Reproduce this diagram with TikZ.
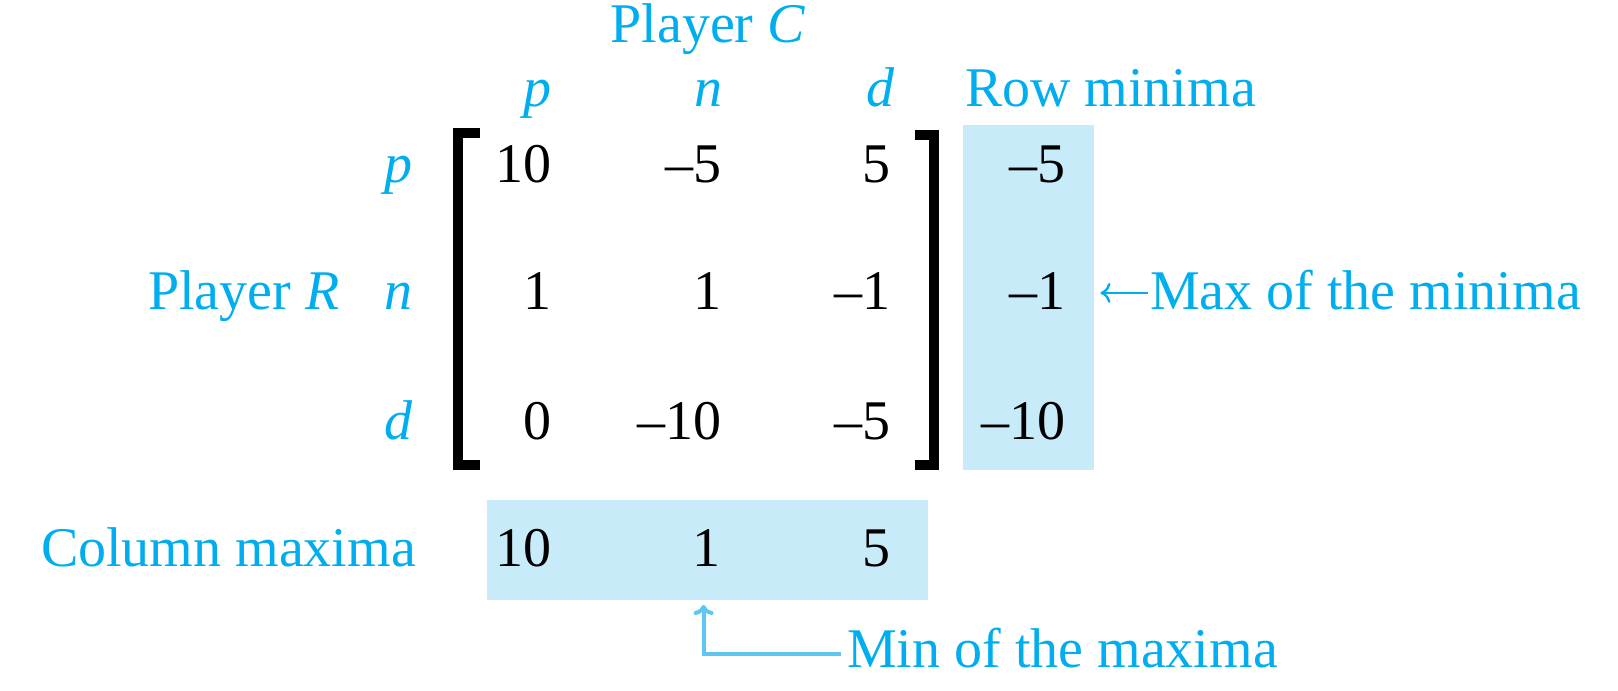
\documentclass[tikz,border=0pt]{standalone}
\usepackage{fontspec}
\setmainfont{Liberation Serif}
\usetikzlibrary{arrows.meta}
\definecolor{cyanT}{RGB}{0,174,239}
\definecolor{boxfill}{RGB}{200,235,250}
\definecolor{arrowc}{RGB}{95,198,242}
\begin{document}
\begin{tikzpicture}[x=0.25pt,y=-0.25pt,
  every node/.style={inner sep=0pt, outer sep=0pt, font=\fontsize{14}{16}\selectfont},
  lbl/.style={text=cyanT},
  num/.style={text=black, anchor=base east},
  brk/.style={line width=2.5pt, black},
  hl/.style={fill=boxfill, draw=none, anchor=north west},
  pointer/.style={draw=arrowc, line width=1pt, -{To[length=2.5pt,width=5pt]}},
  leftptr/.style={draw=cyanT, line width=0.6pt, -{To[length=2.5pt,width=5pt]}},
]
\useasboundingbox (0,0) rectangle (1618,691);

% highlight boxes
\node[hl, minimum width=32.75pt, minimum height=86.25pt] (rowbox) at (963,125) {};
\node[hl, minimum width=110.25pt, minimum height=25pt] (colbox) at (487,500) {};

% brackets
\draw[brk] (480,133) -- (458,133) -- (458,465) -- (480,465);
\draw[brk] (915,135) -- (934,135) -- (934,465) -- (915,465);

% headings
\node[lbl, anchor=base] (pC) at (708,43) {Player \textit{C}};
\node[lbl, anchor=base] (hp) at (537,107) {\textit{p}};
\node[lbl, anchor=base] (hn) at (708,107) {\textit{n}};
\node[lbl, anchor=base] (hd) at (881,107) {\textit{d}};
\node[lbl, anchor=base west] (rmin) at (965,107) {Row minima};

\node[lbl, anchor=base west] (pR) at (148,310) {Player \textit{R}};
\node[lbl, anchor=base] (rp) at (398,183) {\textit{p}};
\node[lbl, anchor=base] (rn) at (398,310) {\textit{n}};
\node[lbl, anchor=base] (rd) at (399,440) {\textit{d}};

% matrix entries
\node[num] (a11) at (551,183) {10};
\node[num] (a12) at (721,183) {–5};
\node[num] (a13) at (890,183) {5};
\node[num] (a21) at (551,310) {1};
\node[num] (a22) at (721,310) {1};
\node[num] (a23) at (890,310) {–1};
\node[num] (a31) at (551,440) {0};
\node[num] (a32) at (721,440) {–10};
\node[num] (a33) at (890,440) {–5};

% row minima
\node[num] (m1) at (1065,183) {–5};
\node[num] (m2) at (1065,310) {–1};
\node[num] (m3) at (1065,440) {–10};

% column maxima
\node[lbl, anchor=base west] (cmlbl) at (41,567) {Column maxima};
\node[num] (cm1) at (551,567) {10};
\node[num] (cm2) at (720,567) {1};
\node[num] (cm3) at (890,567) {5};

% annotations
\node[lbl, anchor=base west] (maxlbl) at (1150,310) {Max of the minima};
\node[lbl, anchor=base west] (minlbl) at (847,668) {Min of the maxima};

\draw[leftptr] ([xshift=-0.5pt,yshift=-0.6pt]maxlbl.west) -- ([xshift=1.6pt,yshift=-0.6pt]maxlbl.west -| rowbox.east);
\coordinate (mintip) at ([xshift=-0.6pt]cm2.south |- colbox.south);
\draw[pointer] ([xshift=-1.6pt,yshift=-1.4pt]minlbl.west) -| ([yshift=-1.25pt]mintip);
\end{tikzpicture}
\end{document}
